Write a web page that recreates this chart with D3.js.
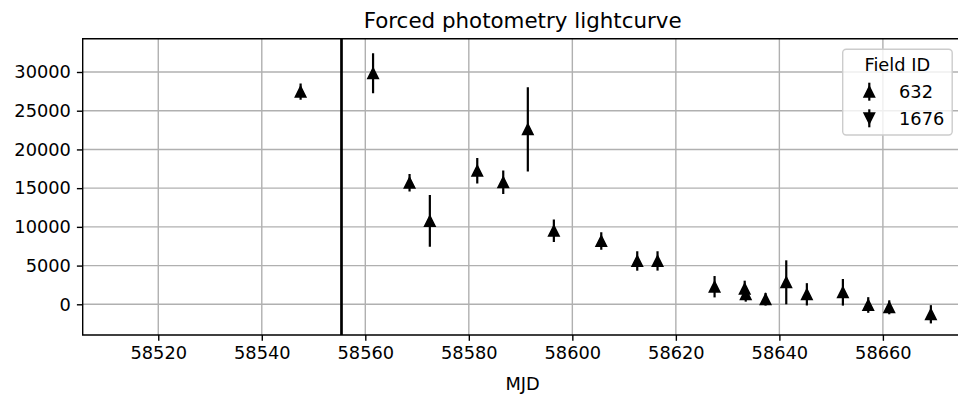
<!DOCTYPE html>
<html>
<head>
<meta charset="utf-8">
<script src="https://cdn.jsdelivr.net/npm/d3@7/dist/d3.min.js"></script>
<style>
  html, body { margin: 0; padding: 0; background: #fff; }
  svg { display: block; font-family: "DejaVu Sans", sans-serif; }
</style>
</head>
<body>
<svg id="chart" width="958" height="395"></svg>
<script>
// Forced photometry of field 632 (flux vs MJD) with 1-sigma errors
const mjd = [58547.5, 58561.5, 58568.55, 58572.47, 58581.63, 58586.65, 58591.4, 58596.43,
             58605.59, 58612.54, 58616.46, 58627.48, 58633.3, 58633.5, 58637.33, 58641.33,
             58645.31, 58652.27, 58657.17, 58661.23, 58669.27];
const flux = [27460, 29830, 15700, 10760, 17250, 15760, 22600, 9500,
              8180, 5590, 5600, 2270, 2000, 1300, 650, 2840,
              1290, 1550, -90, -390, -1290];
const fluxErr = [1050, 2580, 1140, 3340, 1650, 1510, 5440, 1450,
                 1120, 1250, 1250, 1380, 1050, 960, 820, 2840,
                 1440, 1720, 1010, 900, 1180];
const fieldIds = ["632", "1676"];
const refMjd = 58555.4;            // reference epoch marked by the vertical line
const xTicks = [58520, 58540, 58560, 58580, 58600, 58620, 58640, 58660];
const yTicks = [0, 5000, 10000, 15000, 20000, 25000, 30000];

const svg = d3.select("#chart");
const L = 82.7, R = 962.6, T = 38.7, B = 335;
const x = d3.scaleLinear().domain([58505.4, 58675.4]).range([L, R]);
const y = d3.scaleLinear().domain([-3965, 34300]).range([B, T]);

const fs = 17.8;
const black = "#000";

svg.append("clipPath").attr("id", "plotclip")
  .append("rect").attr("x", L).attr("y", T).attr("width", R - L).attr("height", B - T);

// grid
const grid = svg.append("g").attr("clip-path", "url(#plotclip)");
grid.selectAll("line.gx").data(xTicks).join("line")
  .attr("x1", d => x(d)).attr("x2", d => x(d)).attr("y1", T).attr("y2", B)
  .attr("stroke", "#b0b0b0").attr("stroke-width", 1.4);
grid.selectAll("line.gy").data(yTicks).join("line")
  .attr("x1", L).attr("x2", R).attr("y1", d => y(d)).attr("y2", d => y(d))
  .attr("stroke", "#b0b0b0").attr("stroke-width", 1.4);

// data
const plot = svg.append("g").attr("clip-path", "url(#plotclip)");
plot.append("line")
  .attr("x1", x(refMjd)).attr("x2", x(refMjd)).attr("y1", T).attr("y2", B)
  .attr("stroke", black).attr("stroke-width", 2.7);

const pts = mjd.map((m, i) => ({ m, f: flux[i], e: fluxErr[i] }));
plot.selectAll("line.err").data(pts).join("line")
  .attr("x1", d => x(d.m)).attr("x2", d => x(d.m))
  .attr("y1", d => y(d.f - d.e)).attr("y2", d => y(d.f + d.e))
  .attr("stroke", black).attr("stroke-width", 2.2);

const h = 5.2;
const up = `M0,${-h}L${-h},${h}L${h},${h}Z`;
const down = `M0,${h}L${-h},${-h}L${h},${-h}Z`;
plot.selectAll("path.pt").data(pts).join("path")
  .attr("d", up)
  .attr("transform", d => `translate(${x(d.m)},${y(d.f)})`)
  .attr("fill", black).attr("stroke", black).attr("stroke-width", 1.6)
  .attr("stroke-linejoin", "miter");

// axes
const xAxis = d3.axisBottom(x).tickValues(xTicks).tickFormat(d3.format("d"))
  .tickSize(5.8).tickPadding(6);
const gx = svg.append("g").attr("transform", `translate(0,${B})`).call(xAxis);
const yAxis = d3.axisLeft(y).tickValues(yTicks).tickFormat(d3.format("d"))
  .tickSize(5.8).tickPadding(6);
const gy = svg.append("g").attr("transform", `translate(${L},0)`).call(yAxis);
[gx, gy].forEach(g => {
  g.select(".domain").remove();
  g.selectAll(".tick line").attr("stroke", black).attr("stroke-width", 1.4);
  g.selectAll(".tick text").attr("fill", "#000").attr("font-size", fs)
    .attr("font-family", "DejaVu Sans");
});
gx.selectAll(".tick text").attr("dy", "0.71em");

// spines (right one lies beyond the canvas)
svg.append("path")
  .attr("d", `M${R},${T}H${L}V${B}H${R}`)
  .attr("fill", "none").attr("stroke", black).attr("stroke-width", 1.4);

// titles
svg.append("text").attr("x", (L + R) / 2).attr("y", 28)
  .attr("text-anchor", "middle").attr("font-size", 21.4).text("Forced photometry lightcurve");
svg.append("text").attr("x", (L + R) / 2).attr("y", 390)
  .attr("text-anchor", "middle").attr("font-size", fs).text("MJD");

// legend
const lg = svg.append("g");
lg.append("rect").attr("x", 842.7).attr("y", 49.3).attr("width", 109.5).attr("height", 85.7)
  .attr("rx", 3.5).attr("fill", "#fff").attr("fill-opacity", 0.8)
  .attr("stroke", "#cccccc").attr("stroke-width", 1.4);
lg.append("text").attr("x", 897.3).attr("y", 70.7).attr("text-anchor", "middle")
  .attr("font-size", fs).text("Field ID");
const markers = [up, down];
fieldIds.forEach((id, i) => {
  const cy = 91.7 + i * 26.6;
  lg.append("line").attr("x1", 869.3).attr("x2", 869.3).attr("y1", cy - 9).attr("y2", cy + 9)
    .attr("stroke", black).attr("stroke-width", 2.2);
  lg.append("path").attr("d", markers[i]).attr("transform", `translate(869.3,${cy})`)
    .attr("fill", black).attr("stroke", black).attr("stroke-width", 1.6);
  lg.append("text").attr("x", 899).attr("y", cy + 6.5).attr("font-size", fs).text(id);
});
</script>
</body>
</html>
